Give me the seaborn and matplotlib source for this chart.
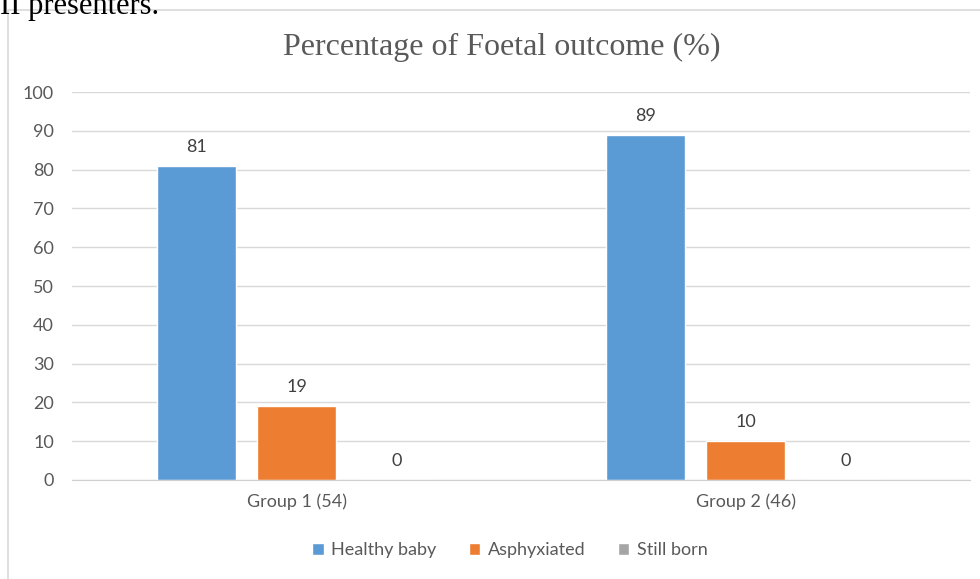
import pandas as pd
import seaborn as sns
import matplotlib.pyplot as plt
from matplotlib.patches import Rectangle

groups = ["Group 1 (54)", "Group 2 (46)"]
outcomes = ["Healthy baby", "Asphyxiated", "Still born"]
healthy = [81, 89]
asphyxiated = [19, 10]
still_born = [0, 0]
colors = ["#5B9BD5", "#ED7D31", "#A5A5A5"]

df = pd.DataFrame({
    "Group": groups * 3,
    "Outcome": [o for o in outcomes for _ in groups],
    "Value": healthy + asphyxiated + still_born,
})

sns.set_style("white")
plt.rcParams["font.family"] = ["Lato", "DejaVu Sans"]

fig = plt.figure(figsize=(9.8, 5.79), dpi=100)
ax = fig.add_axes([0.0735, 0.171, 0.9165, 0.670])

sns.barplot(data=df, x="Group", y="Value", hue="Outcome", order=groups,
            hue_order=outcomes, palette=colors, width=0.668, gap=0.21,
            saturation=1, ax=ax, legend=True)

for c in ax.containers:
    ax.bar_label(c, padding=8, fontsize=13, color="#404040")

ax.set_ylim(0, 100)
ax.set_xlim(-0.5, 1.5)
ax.set_yticks(range(0, 101, 10))
ax.grid(axis="y", color="#d9d9d9", lw=1)
ax.set_axisbelow(True)
for s in ["top", "right", "left"]:
    ax.spines[s].set_visible(False)
ax.spines["bottom"].set_color("#d0d0d0")
ax.tick_params(axis="both", length=0, labelsize=13, labelcolor="#595959")
ax.tick_params(axis="y", pad=13)
ax.tick_params(axis="x", pad=10)
ax.set_xlabel("")
ax.set_ylabel("")

ax.legend(loc="center", bbox_to_anchor=(0.52, 0.05), bbox_transform=fig.transFigure,
          ncol=3, frameon=False, fontsize=13, handlelength=0.65, handleheight=0.65,
          handletextpad=0.4, columnspacing=1.8, labelcolor="#595959")

fig.text(0.512, 1 - 47 / 579, "Percentage of Foetal outcome (%)", ha="center", va="center",
         fontsize=23, color="#595959", family=["Liberation Serif"])

fig.patches.append(Rectangle((8 / 980, -0.1), 1.1, 1 - 10 / 579 + 0.1, transform=fig.transFigure,
                             fill=False, edgecolor="#d9d9d9", lw=1.2))

fig.text(0.0, 1 - 14 / 579, "II presenters.", ha="left", va="baseline",
         fontsize=22, color="black", family=["Liberation Serif"])

fig.savefig("out.png", dpi=100, facecolor="white")
